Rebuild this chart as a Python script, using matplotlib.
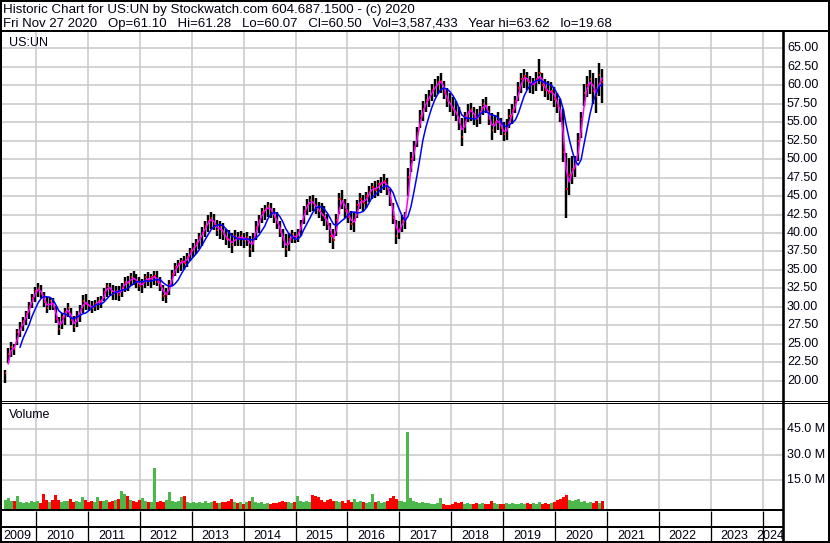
import numpy as np
import pandas as pd
import matplotlib
matplotlib.use("Agg")
import matplotlib.pyplot as plt

plt.rcParams['font.family'] = ['Liberation Sans', 'DejaVu Sans']

# ---------------- data (~3-week steps) ----------------
bar_dates = pd.date_range(end='2020-11-27', periods=201, freq='21D')

high = [21.5, 24.5, 25.3, 25.0, 27.0, 28.0, 28.6, 29.5, 30.6, 31.8,
        32.7, 33.2, 33.0, 32.0, 31.3, 31.4, 31.2, 30.1, 28.6, 29.2,
        29.8, 30.5, 29.8, 28.8, 29.5, 30.2, 31.6, 31.8, 31.0, 30.8,
        31.0, 31.3, 31.5, 32.6, 33.3, 33.3, 33.0, 32.8, 32.8, 33.2,
        34.0, 34.2, 34.6, 34.8, 34.5, 34.0, 33.8, 34.5, 34.7, 34.4,
        34.8, 34.8, 34.0, 33.0, 32.6, 33.6, 35.0, 36.0, 36.4, 36.6,
        36.9, 37.3, 38.0, 38.6, 39.2, 40.0, 40.8, 41.6, 42.4, 42.8,
        42.6, 41.8, 41.6, 41.4, 40.6, 40.4, 40.0, 40.4, 40.2, 40.3,
        40.0, 40.2, 39.6, 40.0, 41.6, 42.4, 43.4, 43.8, 44.2, 44.0,
        43.4, 42.8, 41.6, 40.6, 39.8, 40.0, 40.4, 40.2, 40.6, 41.8,
        43.6, 44.6, 45.0, 45.2, 44.8, 44.2, 44.0, 43.6, 42.6, 41.4,
        40.6, 42.6, 45.4, 45.8, 44.6, 44.0, 43.0, 42.8, 44.4, 45.4,
        45.2, 45.6, 46.4, 46.8, 47.0, 47.2, 47.6, 48.0, 47.4, 46.0,
        44.0, 41.8, 41.6, 42.4, 42.8, 48.8, 51.0, 52.4, 54.4, 56.6,
        57.8, 58.8, 59.4, 60.2, 60.8, 61.2, 61.6, 60.6, 59.6, 59.0,
        58.4, 57.8, 57.0, 55.6, 56.4, 57.4, 57.6, 57.0, 56.8, 57.2,
        58.2, 58.4, 57.2, 56.2, 56.0, 56.4, 55.6, 55.0, 55.4, 56.8,
        57.4, 58.6, 60.4, 61.6, 62.2, 61.8, 61.2, 61.0, 61.8, 63.6,
        61.6, 60.8, 60.6, 60.4, 59.8, 59.0, 58.2, 56.8, 50.8, 50.2,
        50.4, 50.4, 53.6, 56.4, 60.2, 61.2, 62.0, 61.6, 61.0, 63.0,
        62.2]

low = [19.7, 22.4, 23.2, 23.5, 24.8, 25.9, 26.8, 27.5, 28.4, 29.8,
       30.6, 31.4, 31.2, 30.0, 29.2, 29.6, 29.6, 27.8, 26.2, 27.0,
       27.6, 28.6, 27.6, 26.6, 27.3, 28.0, 29.2, 29.6, 29.4, 29.2,
       29.4, 29.6, 29.8, 30.8, 31.4, 31.6, 31.0, 31.0, 30.8, 31.4,
       32.0, 32.2, 32.8, 33.0, 32.6, 32.2, 31.9, 32.6, 32.8, 32.6,
       33.0, 32.8, 32.2, 30.8, 30.5, 31.6, 32.8, 34.2, 34.6, 34.8,
       35.0, 35.4, 36.2, 36.8, 37.2, 37.8, 38.2, 39.4, 40.2, 40.6,
       40.4, 39.6, 39.2, 39.0, 38.4, 38.0, 37.3, 38.2, 38.2, 38.3,
       38.0, 38.2, 36.8, 37.4, 39.0, 40.0, 41.4, 41.8, 42.2, 42.0,
       41.4, 40.6, 39.4, 38.0, 36.8, 37.6, 38.6, 38.6, 38.8, 39.6,
       41.2, 42.4, 42.8, 43.0, 42.6, 42.0, 41.6, 41.0, 40.4, 38.6,
       37.9, 39.6, 42.6, 43.2, 42.0, 41.4, 40.4, 40.2, 42.0, 43.2,
       43.0, 43.4, 44.2, 44.6, 44.8, 45.0, 45.4, 45.8, 45.2, 43.6,
       41.2, 38.5, 39.2, 40.2, 40.6, 45.0, 48.2, 49.8, 51.6, 54.2,
       55.2, 56.4, 57.0, 57.8, 58.4, 58.8, 59.0, 58.2, 57.0, 56.4,
       55.8, 55.2, 54.0, 51.8, 53.6, 55.0, 55.2, 54.6, 54.4, 54.8,
       56.0, 56.2, 54.6, 52.6, 53.6, 54.0, 53.2, 52.4, 52.6, 54.2,
       54.8, 56.2, 57.8, 59.0, 59.6, 59.4, 59.0, 58.8, 59.2, 60.2,
       59.2, 58.4, 58.0, 57.8, 57.0, 56.2, 55.0, 49.6, 42.0, 45.2,
       46.6, 47.6, 49.8, 52.8, 57.2, 58.4, 58.8, 57.4, 56.2, 58.6,
       57.6]

close = [21.0, 23.6, 24.6, 24.3, 26.6, 27.2, 28.1, 29.0, 30.1, 31.2,
         32.2, 32.5, 31.8, 30.6, 29.9, 30.8, 30.2, 28.3, 27.0, 28.6,
         29.3, 29.8, 28.2, 27.3, 28.8, 29.5, 30.8, 30.4, 30.1, 29.8,
         30.4, 30.8, 30.6, 32.0, 32.8, 32.4, 31.8, 32.2, 31.6, 32.6,
         33.4, 33.2, 34.0, 33.8, 33.4, 32.8, 33.2, 34.0, 33.6, 34.0,
         34.2, 33.4, 32.8, 31.5, 31.8, 33.0, 34.5, 35.4, 35.8, 36.2,
         36.0, 36.8, 37.5, 38.0, 38.6, 39.4, 40.0, 41.0, 41.6, 42.0,
         41.2, 40.4, 40.8, 39.8, 39.2, 39.0, 38.4, 39.6, 39.2, 39.6,
         39.0, 39.5, 37.8, 39.2, 40.8, 41.8, 42.8, 43.2, 43.6, 43.0,
         42.2, 41.4, 40.2, 39.0, 37.8, 39.2, 39.8, 39.2, 40.0, 41.2,
         43.0, 43.8, 44.4, 44.0, 43.4, 43.0, 42.4, 42.0, 41.2, 39.6,
         39.0, 41.8, 44.6, 44.2, 43.0, 42.2, 41.2, 41.8, 43.8, 44.6,
         44.0, 45.0, 45.6, 46.2, 45.8, 46.6, 46.8, 47.0, 46.0, 44.2,
         42.0, 39.6, 40.6, 41.6, 42.0, 47.6, 50.0, 51.6, 53.6, 55.8,
         56.8, 58.0, 58.4, 59.4, 59.8, 60.4, 60.6, 59.0, 57.8, 57.4,
         56.6, 56.2, 55.0, 53.0, 55.8, 56.4, 56.8, 55.6, 55.4, 56.4,
         57.4, 57.2, 55.4, 54.0, 55.0, 55.4, 54.2, 53.4, 54.2, 55.8,
         56.6, 57.8, 59.6, 60.8, 61.2, 60.6, 60.0, 60.2, 60.8, 61.6,
         60.0, 59.4, 59.0, 59.2, 58.2, 57.2, 56.0, 51.0, 46.0, 47.8,
         48.6, 49.4, 52.4, 55.4, 59.0, 60.0, 60.8, 59.2, 58.6, 61.4,
         60.5]

volume_m = [3.5, 4.6, 2.8, 3.2, 6.0, 2.4, 1.8, 2.6, 1.6, 2.9,
            2.2, 3.0, 2.0, 7.2, 3.4, 2.6, 3.8, 6.2, 3.6, 2.4,
            3.2, 2.8, 4.2, 2.5, 3.0, 2.2, 5.0, 3.4, 2.6, 3.1,
            2.4, 5.0, 3.0, 2.7, 3.6, 2.2, 2.8, 3.4, 4.0, 9.0,
            7.2, 6.0, 3.8, 3.0, 2.6, 3.4, 4.8, 3.0, 2.2, 2.6,
            22.4, 2.4, 3.2, 2.6, 3.8, 8.0, 3.0, 2.2, 2.8, 5.4,
            5.6, 2.4, 2.0, 2.6, 1.8, 2.4, 2.0, 2.8, 1.6, 2.4,
            3.2, 2.0, 1.8, 2.6, 2.2, 3.0, 4.2, 2.4, 1.6, 2.2,
            1.4, 2.6, 3.0, 5.2, 2.6, 1.8, 2.2, 1.4, 1.8, 1.2,
            2.0, 1.6, 2.4, 3.0, 2.2, 2.6, 1.8, 2.4, 5.6, 3.2,
            2.6, 3.0, 2.2, 6.2, 5.8, 5.2, 3.4, 2.6, 3.8, 4.2,
            2.8, 3.0, 2.2, 2.8, 2.0, 3.4, 2.6, 4.0, 2.4, 3.0,
            2.2, 1.8, 2.6, 6.8, 2.4, 3.0, 2.0, 2.6, 3.2, 4.4,
            5.6, 4.0, 2.8, 3.2, 2.4, 43.3, 4.4, 3.0, 2.2, 1.8,
            2.4, 1.6, 1.8, 1.2, 1.4, 2.0, 4.8, 1.0, 0.8, 0.6,
            1.4, 2.2, 1.8, 2.6, 1.2, 1.6, 1.0, 1.4, 1.8, 1.2,
            1.6, 1.0, 1.4, 3.0, 1.6, 1.2, 1.4, 1.0, 1.6, 1.2,
            1.8, 1.4, 1.0, 1.6, 1.2, 1.8, 1.2, 1.6, 1.0, 2.2,
            1.4, 1.8, 1.2, 2.0, 2.6, 3.4, 4.2, 5.0, 6.4, 3.8,
            2.8, 3.4, 4.0, 2.6, 3.2, 1.8, 2.4, 1.6, 2.8, 2.0,
            2.8]

price_ticks = np.arange(20.0, 65.01, 2.5)
vol_ticks = [15.0, 30.0, 45.0]
years = list(range(2009, 2025))

# ---------------- layout helpers (pixel geometry) ----------------
W, H = 830, 543
PXY = 51.9          # pixels per year
X2010 = 36.0        # pixel of 1 Jan 2010


def px2yr(x):
    return 2010 + (x - X2010) / PXY


def yr2px(y):
    return X2010 + (y - 2010) * PXY


fig = plt.figure(figsize=(W / 100, H / 100), dpi=100)
fig.patch.set_facecolor('white')


def add_ax(x0, y0, x1, y1, **kw):
    return fig.add_axes([x0 / W, 1 - y1 / H, (x1 - x0) / W, (y1 - y0) / H], **kw)


t = np.asarray(bar_dates.year + (bar_dates.dayofyear - 1) / 365.25, dtype=float)
xlim = (px2yr(2), px2yr(782))
grid_c = '#c8c8c8'

# ---------------- price panel ----------------
axp = add_ax(2, 32, 782, 401)
axp.set_xlim(*xlim)
axp.set_ylim(65 - (401 - 48.3) * 0.13535, 65 + (48.3 - 32) * 0.13535)
axp.set_yticks(price_ticks)
axp.set_xticks(years[1:])
axp.grid(True, color=grid_c, lw=1.1)
axp.tick_params(length=0, labelbottom=False, labelleft=False)
for s in axp.spines.values():
    s.set_visible(False)
axp.set_axisbelow(True)

high_a = np.array(high)
low_a = np.array(low)
close_a = np.array(close)
axp.vlines(t, low_a, high_a, color='black', lw=1.75, zorder=2)
dx = 1.3 / PXY
axp.hlines(close_a, t, t + dx, color='#ff0000', lw=1.4, zorder=3)

cs = pd.Series(close_a)
ma_short = cs.rolling(2).mean()
ma_long = cs.rolling(6).mean()
axp.plot(t, ma_short, color='#ff00ff', lw=1.1, zorder=4)
axp.plot(t, ma_long, color='#0000ff', lw=1.1, zorder=4)

# ---------------- volume panel ----------------
axv = add_ax(2, 403, 782, 509)
axv.set_xlim(*xlim)
v0 = -(509 - 506) / 1.71
axv.set_ylim(v0, (506 - 403) / 1.71)
axv.set_yticks(vol_ticks)
axv.set_xticks(years[1:])
axv.grid(True, color=grid_c, lw=1.1)
axv.tick_params(length=0, labelbottom=False, labelleft=False)
for s in axv.spines.values():
    s.set_visible(False)
axv.set_axisbelow(True)

vol_a = np.array(volume_m)
up = np.r_[True, close_a[1:] >= close_a[:-1]]
vcol = np.where(up, '#4cb84c', '#ff0000')
axv.bar(t, vol_a - v0, bottom=v0, width=3.0 / PXY, color=vcol, linewidth=0, zorder=2)

# ---------------- frame, labels (overlay in pixel coords) ----------------
ax0 = fig.add_axes([0, 0, 1, 1], zorder=10)
ax0.set_xlim(0, W)
ax0.set_ylim(H, 0)
ax0.axis('off')
ax0.patch.set_alpha(0)

K = 0.72  # points per pixel


def hline(y, x0, x1, w):
    ax0.plot([x0, x1], [y, y], color='black', lw=w * K, solid_capstyle='butt')


def vline(x, y0, y1, w):
    ax0.plot([x, x], [y0, y1], color='black', lw=w * K, solid_capstyle='butt')


hline(1, 0, W, 2)
hline(31, 0, W, 2)
hline(400.7, 0, W, 1)
hline(402.7, 0, W, 1)
hline(510, 0, 783, 2)
hline(527, 0, 783, 2)
hline(542, 0, W, 2)
vline(1, 0, H, 2)
vline(828.5, 0, H, 2)
vline(783, 31, 542, 2.6)
for yv in years[1:]:
    vline(yr2px(yv), 511, 542, 1.3)

fs = 9
tc = '#000010'
ax0.text(3, 12.5, 'Historic Chart for US:UN by Stockwatch.com 604.687.1500 - (c) 2020',
         fontsize=9.6, color=tc, va='baseline', ha='left')
ax0.text(3, 27.3, 'Fri Nov 27 2020   Op=61.10   Hi=61.28   Lo=60.07   Cl=60.50   '
         'Vol=3,587,433   Year hi=63.62   lo=19.68',
         fontsize=9.5, color=tc, va='baseline', ha='left')
ax0.text(9, 46, 'US:UN', fontsize=fs, color=tc, va='baseline', ha='left')
ax0.text(9, 418, 'Volume', fontsize=fs, color=tc, va='baseline', ha='left')

for p in price_ticks:
    ypx = 48.3 + (65 - p) / 0.13535
    ax0.text(787, ypx, f'{p:.2f}', fontsize=fs, color=tc, va='center', ha='left')
for v in vol_ticks:
    ypx = 506 - v * 1.71
    ax0.text(787, ypx, f'{v:.1f} M', fontsize=fs, color=tc, va='center', ha='left')

for yv in years:
    if yv == 2009:
        ax0.text(3, 539, str(yv), fontsize=fs, color=tc, va='baseline', ha='left')
    elif yv == 2024:
        ax0.text(784, 539, str(yv), fontsize=fs, color=tc, va='baseline', ha='right')
    else:
        ax0.text(yr2px(yv) + 10, 539, str(yv), fontsize=fs, color=tc, va='baseline', ha='left')

fig.savefig('out.png', dpi=100, facecolor='white')
